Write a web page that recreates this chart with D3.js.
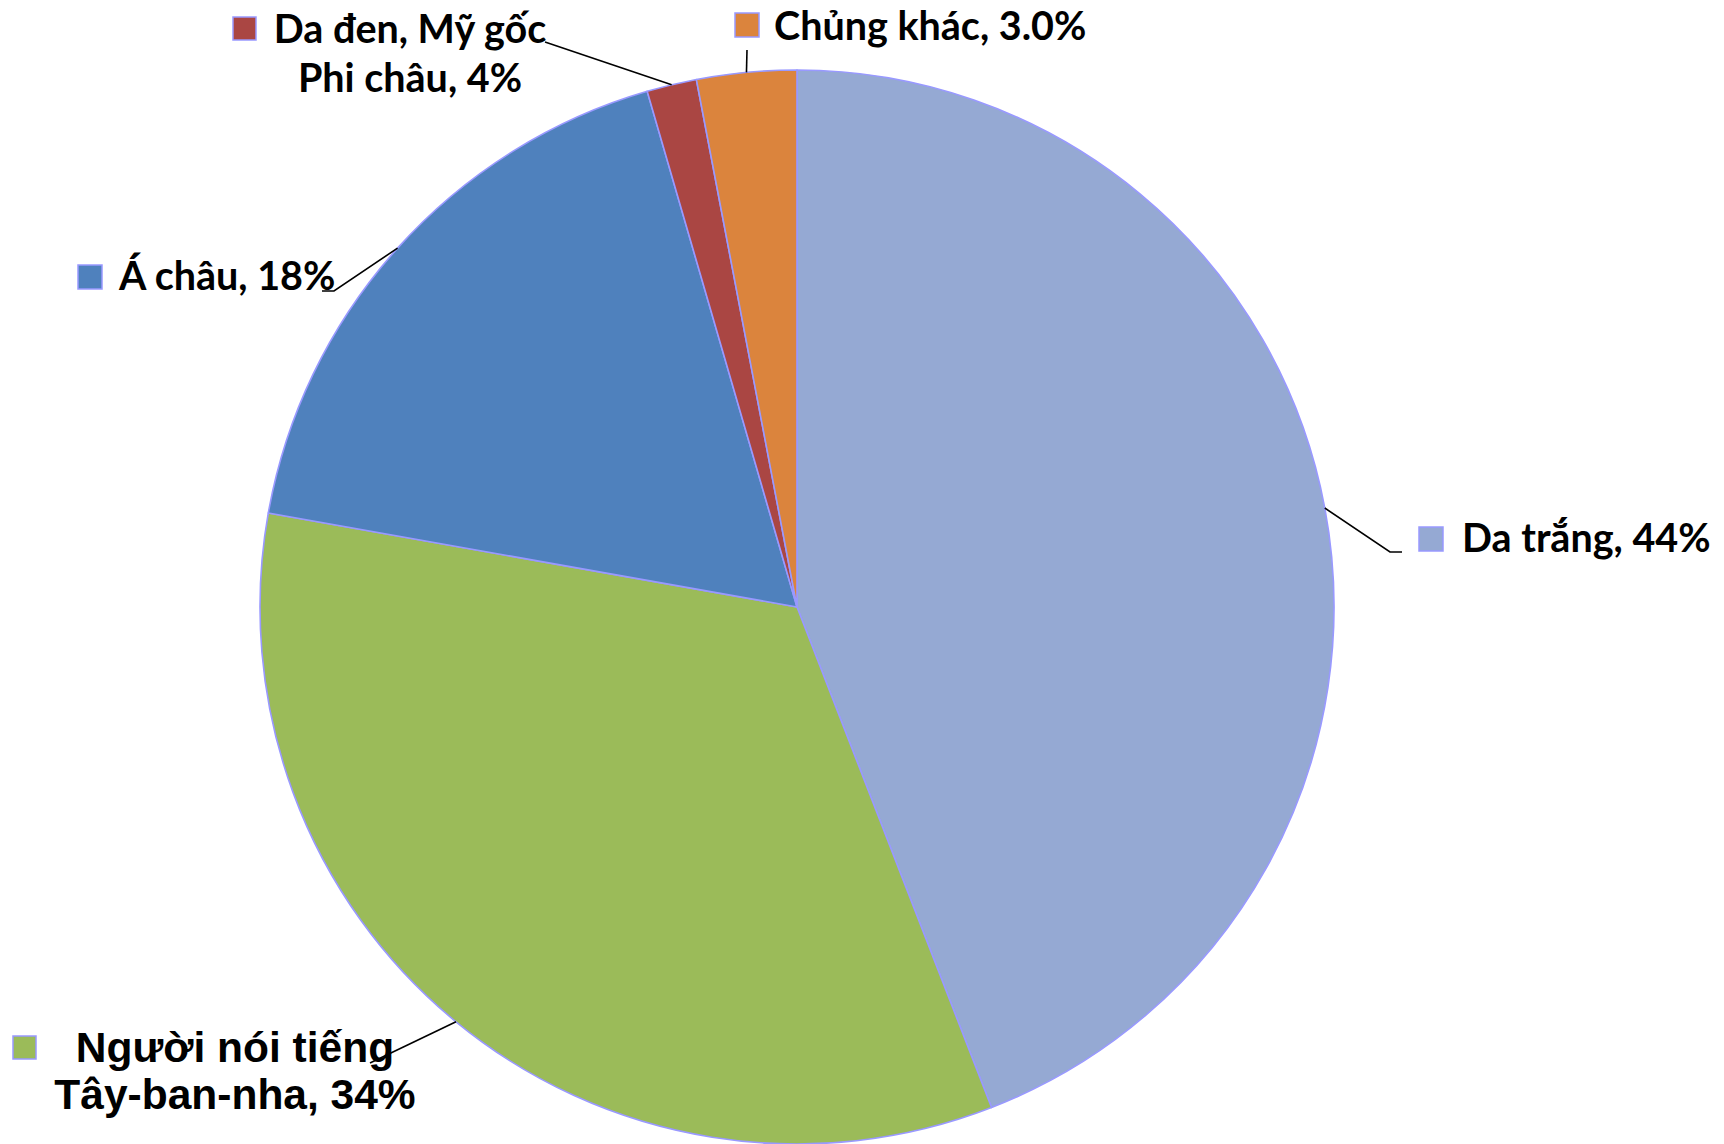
<!DOCTYPE html>
<html>
<head>
<meta charset="utf-8">
<script src="https://cdn.jsdelivr.net/npm/d3@7"></script>
<style>
  html, body { margin: 0; padding: 0; background: #fff; }
  svg { display: block; }
</style>
</head>
<body>
<svg id="chart" width="1724" height="1144"></svg>
<script>
// ---- data ----
const categories = ["Da trắng", "Người nói tiếng Tây-ban-nha", "Á châu", "Da đen, Mỹ gốc Phi châu", "Chủng khác"];
const values = [44.1, 33.7, 17.7, 1.5, 3.0];
const labelLines = [
  ["Da trắng, 44%"],
  ["Người nói tiếng", "Tây-ban-nha, 34%"],
  ["Á châu, 18%"],
  ["Da đen, Mỹ gốc", "Phi châu, 4%"],
  ["Chủng khác, 3.0%"]
];
const colors = ["#95a9d3", "#9bbb59", "#4f81bd", "#aa4643", "#db843d"];

// ---- layout ----
const W = 1724, H = 1144;
const cx = 797, cy = 607, R = 537;
const svg = d3.select("#chart");

const pie = d3.pie().sort(null).value(d => d.v);
const data = categories.map((c, i) => ({ c, v: values[i], i }));
const arcs = pie(data);
const arc = d3.arc().innerRadius(0).outerRadius(R);
const edge = d3.arc().innerRadius(R).outerRadius(R);

const g = svg.append("g").attr("transform", `translate(${cx},${cy})`);
g.selectAll("path.slice").data(arcs).join("path")
  .attr("class", "slice")
  .attr("d", arc)
  .attr("fill", d => colors[d.data.i])
  .attr("stroke", "#9999ff")
  .attr("stroke-width", 1.6)
  .attr("stroke-linejoin", "round");

// label layout (per slice)
const calibri = "Lato, 'Open Sans', sans-serif";
const arial = "'Liberation Sans', Arial, sans-serif";
const layout = [
  { font: calibri, size: 39.5, anchor: "start", lines: [[1462, 552]], sq: [1419, 527, 24], leader: [[1402, 552], [1390, 552]] },
  { font: arial, size: 42.5, anchor: "middle", lines: [[235, 1062], [235, 1109]], sq: [13, 1036, 23], leader: [[370, 1063]] },
  { font: calibri, size: 39.5, anchor: "start", lines: [[119, 290]], sq: [78, 265, 24], leader: [[322, 291], [334, 291]] },
  { font: calibri, size: 39.5, anchor: "middle", lines: [[410, 43], [410, 92]], sq: [233, 17, 23], leader: [[545, 42]] },
  { font: calibri, size: 39.5, anchor: "start", lines: [[774, 40]], sq: [735, 13, 24], leader: [[747, 50]] }
];

// leader lines
arcs.forEach(a => {
  const L = layout[a.data.i];
  const [ex, ey] = edge.centroid(a);
  const pts = L.leader.concat([[cx + ex, cy + ey]]);
  svg.append("path")
    .attr("d", d3.line()(pts))
    .attr("fill", "none")
    .attr("stroke", "#000")
    .attr("stroke-width", 1.6);
});

// labels
arcs.forEach(a => {
  const i = a.data.i;
  const L = layout[i];
  svg.append("rect")
    .attr("x", L.sq[0]).attr("y", L.sq[1])
    .attr("width", L.sq[2]).attr("height", L.sq[2])
    .attr("fill", colors[i])
    .attr("stroke", "#9999ff")
    .attr("stroke-width", 1.5);
  labelLines[i].forEach((t, j) => {
    svg.append("text")
      .attr("x", L.lines[j][0]).attr("y", L.lines[j][1])
      .attr("text-anchor", L.anchor)
      .attr("font-family", L.font)
      .attr("font-weight", "bold")
      .attr("font-size", L.size)
      .attr("fill", "#000")
      .text(t);
  });
});
</script>
</body>
</html>
